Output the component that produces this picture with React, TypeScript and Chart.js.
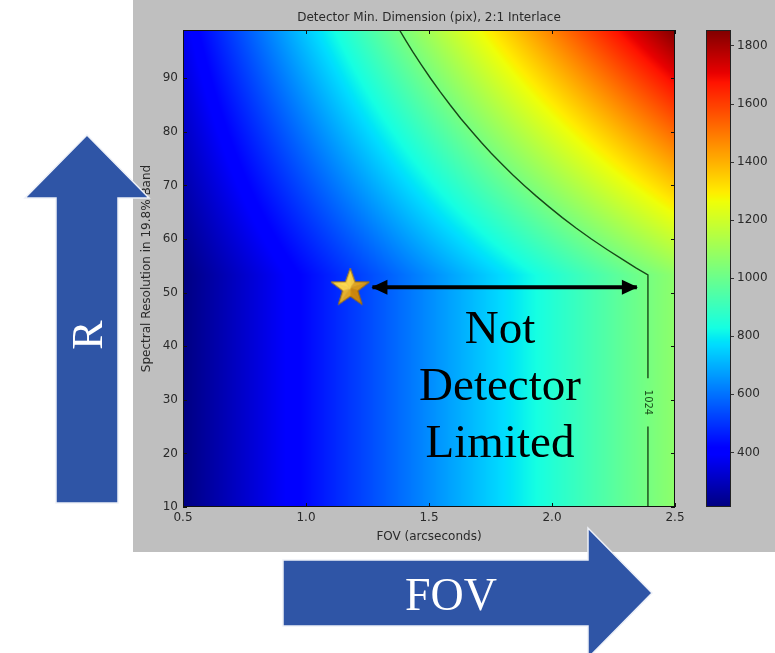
import React, { useEffect, useRef } from "react";
import { Chart, registerables } from "chart.js";

Chart.register(...registerables);

// ---- data ----
const fovGrid = [0.5, 1.0, 1.5, 2.0, 2.5];
const resolutionGrid = [10, 30, 53.3, 60, 70, 80, 90, 99];
// detector minimum dimension (pix), one row per resolution value, one column per FOV value
const detectorPix = [
  [214, 428, 642, 856, 1070],
  [214, 428, 642, 856, 1070],
  [214, 428, 642, 856, 1070],
  [237, 474, 711, 948, 1185],
  [272, 543, 815, 1086, 1358],
  [306, 611, 917, 1222, 1528],
  [340, 680, 1020, 1360, 1700],
  [371, 742, 1113, 1484, 1855],
];
const colorMin = 212;
const colorMax = 1855;

const xTicks = [0.5, 1.0, 1.5, 2.0, 2.5];
const yTicks = [10, 20, 30, 40, 50, 60, 70, 80, 90];
const colorbarTicks = [400, 600, 800, 1000, 1200, 1400, 1600, 1800];

const contourLevel = "1024";
const contourLowerFov = [2.39, 2.39];
const contourLowerR = [10, 25];
const contourUpperFov = [2.39, 2.39, 2.341, 2.293, 2.225, 2.16, 2.099, 2.042, 1.988, 1.936, 1.887, 1.84, 1.796, 1.753, 1.713, 1.675, 1.629, 1.586, 1.545, 1.506, 1.469, 1.433, 1.406, 1.38];
const contourUpperR = [34, 53.3, 54.6, 56, 58, 60, 62, 64, 66, 68, 70, 72, 74, 76, 78, 80, 82.5, 85, 87.5, 90, 92.5, 95, 97, 99];
const contourLabelFov = 2.39;
const contourLabelR = 29.5;

const starFov = [1.18];
const starR = [51];
const arrowFov = [1.27, 2.345];
const arrowR = [51, 51];

const TITLE = "Detector Min. Dimension (pix), 2:1 Interlace";
const X_TITLE = "FOV (arcseconds)";
const Y_TITLE = "Spectral Resolution in 19.8% Band";

// ---- helpers ----
const FONT = { family: "'DejaVu Sans', sans-serif", size: 12, weight: "normal" as const };
const TEXT_COLOR = "#2a2a2a";
const CONTOUR_COLOR = "rgba(12,52,12,0.9)";

function interp(pts: number[][], t: number) {
  for (let i = 0; i < pts.length - 1; i++) {
    const [x0, y0] = pts[i];
    const [x1, y1] = pts[i + 1];
    if (t <= x1) return y0 + ((t - x0) / (x1 - x0)) * (y1 - y0);
  }
  return pts[pts.length - 1][1];
}
const JET_R = [[0, 0], [0.35, 0], [0.66, 1], [0.89, 1], [1, 0.5]];
const JET_G = [[0, 0], [0.125, 0], [0.375, 1], [0.64, 1], [0.91, 0], [1, 0]];
const JET_B = [[0, 0.5], [0.11, 1], [0.34, 1], [0.65, 0], [1, 0]];
function jet(t: number): [number, number, number] {
  const c = Math.max(0, Math.min(1, t));
  return [
    Math.round(255 * interp(JET_R, c)),
    Math.round(255 * interp(JET_G, c)),
    Math.round(255 * interp(JET_B, c)),
  ];
}

function locate(grid: number[], v: number): [number, number] {
  let i = 0;
  while (i < grid.length - 2 && v > grid[i + 1]) i++;
  const t = (v - grid[i]) / (grid[i + 1] - grid[i]);
  return [i, Math.max(0, Math.min(1, t))];
}
function valueAt(fov: number, r: number) {
  const [i, tx] = locate(fovGrid, fov);
  const [j, ty] = locate(resolutionGrid, r);
  const a = detectorPix[j][i] * (1 - tx) + detectorPix[j][i + 1] * tx;
  const b = detectorPix[j + 1][i] * (1 - tx) + detectorPix[j + 1][i + 1] * tx;
  return a * (1 - ty) + b * ty;
}

function makeStar(): HTMLCanvasElement {
  const size = 42;
  const c = document.createElement("canvas");
  c.width = size;
  c.height = size;
  const g = c.getContext("2d")!;
  const cx = size / 2;
  const cy = size / 2 + 1;
  const ro = 20;
  const ri = 8;
  const pts: [number, number][] = [];
  for (let k = 0; k < 10; k++) {
    const ang = -Math.PI / 2 + (k * Math.PI) / 5;
    const rr = k % 2 === 0 ? ro : ri;
    pts.push([cx + rr * Math.cos(ang), cy + rr * Math.sin(ang)]);
  }
  const light = -Math.PI * 0.75;
  for (let k = 0; k < 10; k++) {
    const p = pts[k];
    const q = pts[(k + 1) % 10];
    const mid = Math.atan2((p[1] + q[1]) / 2 - cy, (p[0] + q[0]) / 2 - cx);
    const s = 0.5 + 0.5 * Math.cos(mid - light);
    const r = Math.round(205 + 50 * s);
    const gg = Math.round(135 + 85 * s);
    const b = Math.round(10 + 70 * s);
    g.beginPath();
    g.moveTo(cx, cy);
    g.lineTo(p[0], p[1]);
    g.lineTo(q[0], q[1]);
    g.closePath();
    g.fillStyle = `rgb(${r},${gg},${b})`;
    g.fill();
    g.strokeStyle = `rgb(${r},${gg},${b})`;
    g.lineWidth = 0.6;
    g.stroke();
  }
  g.beginPath();
  pts.forEach((p, k) => (k === 0 ? g.moveTo(p[0], p[1]) : g.lineTo(p[0], p[1])));
  g.closePath();
  g.strokeStyle = "#9a6600";
  g.lineWidth = 0.9;
  g.stroke();
  return c;
}

const heatmapPlugin = {
  id: "heatmap",
  beforeDatasetsDraw(chart: any) {
    const { ctx, chartArea, scales } = chart;
    const left = Math.round(chartArea.left);
    const top = Math.round(chartArea.top);
    const w = Math.round(chartArea.right) - left;
    const h = Math.round(chartArea.bottom) - top;
    const off = document.createElement("canvas");
    off.width = w;
    off.height = h;
    const octx = off.getContext("2d")!;
    const img = octx.createImageData(w, h);
    const fovs: number[] = [];
    for (let i = 0; i < w; i++) fovs.push(scales.x.getValueForPixel(left + i + 0.5));
    for (let j = 0; j < h; j++) {
      const r = scales.y.getValueForPixel(top + j + 0.5);
      for (let i = 0; i < w; i++) {
        const v = valueAt(fovs[i], r);
        const [cr, cg, cb] = jet((v - colorMin) / (colorMax - colorMin));
        const k = (j * w + i) * 4;
        img.data[k] = cr;
        img.data[k + 1] = cg;
        img.data[k + 2] = cb;
        img.data[k + 3] = 255;
      }
    }
    octx.putImageData(img, 0, 0);
    ctx.drawImage(off, left, top);
  },
  afterDatasetsDraw(chart: any) {
    const { ctx, chartArea, scales } = chart;
    const { left, top, right, bottom } = chartArea;
    ctx.save();
    // arrow heads for the double arrow dataset
    const meta = chart.getDatasetMeta(2);
    if (meta && meta.data.length === 2) {
      const p0 = meta.data[0];
      const p1 = meta.data[1];
      const L = 16;
      const H = 7.5;
      ctx.fillStyle = "#000";
      ctx.beginPath();
      ctx.moveTo(p0.x - 1, p0.y);
      ctx.lineTo(p0.x - 1 + L, p0.y - H);
      ctx.lineTo(p0.x - 1 + L, p0.y + H);
      ctx.closePath();
      ctx.fill();
      ctx.beginPath();
      ctx.moveTo(p1.x + 1, p1.y);
      ctx.lineTo(p1.x + 1 - L, p1.y - H);
      ctx.lineTo(p1.x + 1 - L, p1.y + H);
      ctx.closePath();
      ctx.fill();
    }
    // contour label
    const lx = scales.x.getPixelForValue(contourLabelFov);
    const ly = scales.y.getPixelForValue(contourLabelR);
    ctx.translate(lx, ly);
    ctx.rotate(Math.PI / 2);
    ctx.font = "10px 'DejaVu Sans', sans-serif";
    ctx.fillStyle = CONTOUR_COLOR;
    ctx.textAlign = "center";
    ctx.textBaseline = "middle";
    ctx.fillText(contourLevel, 0, 0);
    ctx.restore();

    // frame and inward ticks
    ctx.save();
    ctx.strokeStyle = "#111";
    ctx.lineWidth = 1;
    ctx.strokeRect(left + 0.5, top + 0.5, right - left - 1, bottom - top - 1);
    ctx.beginPath();
    xTicks.forEach((v) => {
      const px = Math.round(scales.x.getPixelForValue(v)) + 0.5;
      ctx.moveTo(px, bottom);
      ctx.lineTo(px, bottom - 4);
      ctx.moveTo(px, top);
      ctx.lineTo(px, top + 4);
    });
    yTicks.forEach((v) => {
      const py = Math.round(scales.y.getPixelForValue(v)) + 0.5;
      ctx.moveTo(left, py);
      ctx.lineTo(left + 4, py);
      ctx.moveTo(right, py);
      ctx.lineTo(right - 4, py);
    });
    ctx.stroke();
    ctx.restore();
  },
};

const colorbarPlugin = {
  id: "colorbar",
  beforeDatasetsDraw(chart: any) {
    const { ctx, chartArea, scales } = chart;
    const left = Math.round(chartArea.left);
    const top = Math.round(chartArea.top);
    const right = Math.round(chartArea.right);
    const bottom = Math.round(chartArea.bottom);
    for (let py = top; py < bottom; py++) {
      const v = scales.y.getValueForPixel(py + 0.5);
      const [r, g, b] = jet((v - colorMin) / (colorMax - colorMin));
      ctx.fillStyle = `rgb(${r},${g},${b})`;
      ctx.fillRect(left, py, right - left, 1);
    }
    ctx.save();
    ctx.strokeStyle = "#222";
    ctx.lineWidth = 1;
    ctx.strokeRect(left + 0.5, top + 0.5, right - left - 1, bottom - top - 1);
    ctx.restore();
  },
};

export default function App() {
  const mainRef = useRef<HTMLCanvasElement>(null);
  const cbRef = useRef<HTMLCanvasElement>(null);

  useEffect(() => {
    const star = makeStar();
    const main = new Chart(mainRef.current!, {
      type: "scatter",
      data: {
        datasets: [
          {
            data: contourLowerFov.map((x, i) => ({ x, y: contourLowerR[i] })),
            showLine: true,
            borderColor: CONTOUR_COLOR,
            borderWidth: 1.4,
            pointRadius: 0,
            tension: 0,
          },
          {
            data: contourUpperFov.map((x, i) => ({ x, y: contourUpperR[i] })),
            showLine: true,
            borderColor: CONTOUR_COLOR,
            borderWidth: 1.4,
            pointRadius: 0,
            tension: 0,
          },
          {
            data: arrowFov.map((x, i) => ({ x, y: arrowR[i] })),
            showLine: true,
            borderColor: "#000",
            borderWidth: 4,
            pointRadius: 0,
          },
          {
            data: starFov.map((x, i) => ({ x, y: starR[i] })),
            pointStyle: star,
            pointRadius: 20,
            showLine: false,
          },
        ],
      } as any,
      options: {
        animation: false,
        responsive: false,
        devicePixelRatio: 1,
        events: [],
        layout: { padding: { left: 0, right: 25, top: 0, bottom: 0 } },
        plugins: {
          legend: { display: false },
          tooltip: { enabled: false },
          title: {
            display: true,
            text: TITLE,
            fullSize: false,
            color: TEXT_COLOR,
            font: FONT,
            padding: { top: 11, bottom: 4.6 },
          },
        },
        scales: {
          x: {
            type: "linear",
            min: 0.5,
            max: 2.5,
            afterBuildTicks: (a: any) => {
              a.ticks = xTicks.map((value) => ({ value }));
            },
            afterFit: (a: any) => {
              a.height = 45;
            },
            grid: { display: false, drawTicks: false },
            border: { display: false },
            ticks: {
              color: TEXT_COLOR,
              font: FONT,
              padding: 4,
              maxRotation: 0,
              autoSkip: false,
              callback: (v: any) => Number(v).toFixed(1),
            },
            title: {
              display: true,
              text: X_TITLE,
              color: TEXT_COLOR,
              font: FONT,
              padding: { top: 0, bottom: 8 },
            },
          },
          y: {
            type: "linear",
            min: 10,
            max: 99,
            afterBuildTicks: (a: any) => {
              a.ticks = yTicks.map((value) => ({ value }));
            },
            afterFit: (a: any) => {
              a.width = 50;
            },
            grid: { display: false, drawTicks: false },
            border: { display: false },
            ticks: {
              color: TEXT_COLOR,
              font: FONT,
              padding: 5,
              autoSkip: false,
              callback: (v: any) => String(v),
            },
            title: {
              display: true,
              text: Y_TITLE,
              color: TEXT_COLOR,
              font: FONT,
              padding: { top: 7, bottom: 0 },
            },
          },
        },
      } as any,
      plugins: [heatmapPlugin],
    });

    const cb = new Chart(cbRef.current!, {
      type: "scatter",
      data: { datasets: [] },
      options: {
        animation: false,
        responsive: false,
        devicePixelRatio: 1,
        events: [],
        layout: { padding: { left: 6, right: 0, top: 30, bottom: 45 } },
        plugins: { legend: { display: false }, tooltip: { enabled: false }, title: { display: false } },
        scales: {
          x: { display: false, min: 0, max: 1 },
          y: {
            type: "linear",
            position: "right",
            min: colorMin,
            max: colorMax,
            afterBuildTicks: (a: any) => {
              a.ticks = colorbarTicks.map((value) => ({ value }));
            },
            afterFit: (a: any) => {
              a.width = 44;
            },
            grid: { display: true, drawOnChartArea: false, drawTicks: true, tickLength: 3, color: "#333" },
            border: { display: false },
            ticks: {
              color: TEXT_COLOR,
              font: FONT,
              padding: 3,
              autoSkip: false,
              callback: (v: any) => String(v),
            },
          },
        },
      } as any,
      plugins: [colorbarPlugin],
    });

    return () => {
      main.destroy();
      cb.destroy();
    };
  }, []);

  const serif = "'Liberation Serif', 'Times New Roman', serif";
  const blue = "#2f55a6";

  return (
    <div
      style={{
        position: "absolute",
        left: 0,
        top: 0,
        width: 775,
        height: 653,
        overflow: "hidden",
        background: "#ffffff",
      }}
    >
      <div style={{ position: "absolute", left: 133, top: 0, width: 642, height: 552, background: "#bfbfbf" }} />
      <canvas
        ref={mainRef}
        width={567}
        height={552}
        style={{ position: "absolute", left: 133, top: 0, width: 567, height: 552 }}
      />
      <canvas
        ref={cbRef}
        width={75}
        height={552}
        style={{ position: "absolute", left: 700, top: 0, width: 75, height: 552 }}
      />
      <svg
        width={775}
        height={653}
        style={{ position: "absolute", left: 0, top: 0, pointerEvents: "none" }}
      >
        <polygon
          points="87,135 149,198 118,198 118,503 56,503 56,198 25,198"
          fill={blue}
          stroke="#eef1f8"
          strokeWidth={1.5}
        />
        <polygon
          points="283,560 588,560 588,528 652,593 588,658 588,626 283,626"
          fill={blue}
          stroke="#eef1f8"
          strokeWidth={1.5}
        />
        <text
          x={87}
          y={350}
          transform="rotate(-90 87 335)"
          fill="#ffffff"
          fontFamily={serif}
          fontSize={44}
          textAnchor="middle"
        >
          R
        </text>
        <text x={451} y={610} fill="#ffffff" fontFamily={serif} fontSize={46} textAnchor="middle">
          FOV
        </text>
        <text fill="#000000" fontFamily={serif} fontSize={47} textAnchor="middle">
          <tspan x={500} y={343}>Not</tspan>
          <tspan x={500} y={400}>Detector</tspan>
          <tspan x={500} y={457}>Limited</tspan>
        </text>
      </svg>
    </div>
  );
}
